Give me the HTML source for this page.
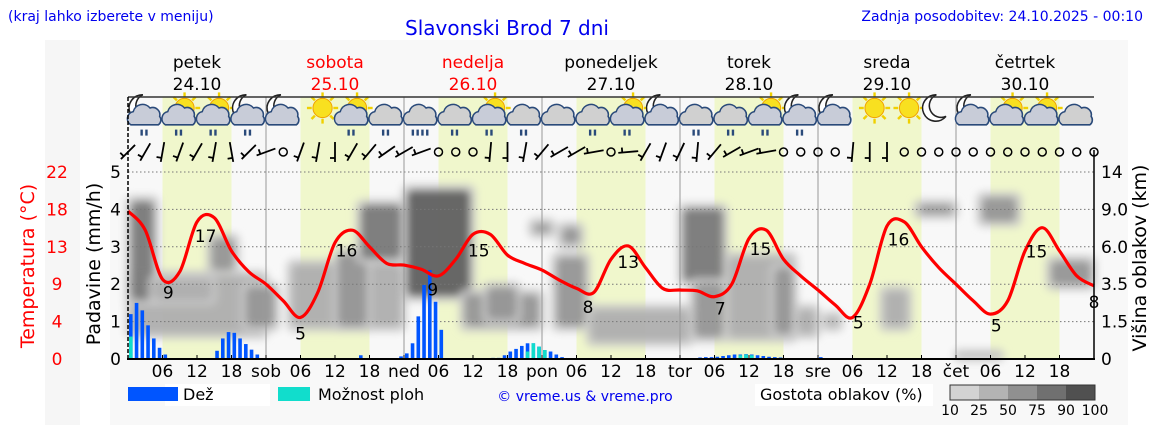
<!DOCTYPE html>
<html><head><meta charset="utf-8">
<style>
body{margin:0;background:#fff;width:1152px;height:443px;overflow:hidden;font-family:"Liberation Sans","DejaVu Sans",sans-serif}
svg text{font-family:"DejaVu Sans","Liberation Sans",sans-serif}
</style></head>
<body>
<svg id="chart" width="1152" height="443" viewBox="0 0 1152 443" xmlns="http://www.w3.org/2000/svg">
<defs><filter id="blur" x="-30%" y="-30%" width="160%" height="160%"><feGaussianBlur stdDeviation="4"/></filter></defs>
<rect x="45" y="40" width="35" height="385" fill="#f6f6f6"/>
<rect x="110" y="40" width="1018" height="385" fill="#f8f8f8"/>
<text x="8" y="21" font-size="14" fill="#0000ee">(kraj lahko izberete v meniju)</text>
<text x="507" y="35" font-size="20" fill="#0000ee" text-anchor="middle">Slavonski Brod 7 dni</text>
<text x="1143" y="21" font-size="14" fill="#0000ee" text-anchor="end">Zadnja posodobitev: 24.10.2025 - 00:10</text>
<g id="bands"></g><g id="clouds" filter="url(#blur)"></g><g id="grid"></g><g id="bars"></g><g id="temp"></g><g id="icons"></g><g id="wind"></g><g id="axes"></g>
<text transform="translate(34,266) rotate(-90)" font-size="19" fill="#ff0000" text-anchor="middle">Temperatura (°C)</text>
<text transform="translate(100,264) rotate(-90)" font-size="19" fill="#000" text-anchor="middle">Padavine (mm/h)</text>
<text transform="translate(1146,258) rotate(-90)" font-size="19" fill="#000" text-anchor="middle">Višina oblakov (km)</text>
<g>
<rect x="165" y="384" width="105" height="22" fill="#fff"/>
<rect x="128" y="387" width="50" height="14" fill="#0055ff"/>
<text x="183" y="400" font-size="16">Dež</text>
<rect x="278" y="387" width="32" height="14" fill="#11ddcc"/>
<text x="318" y="400" font-size="16">Možnost ploh</text>
<text x="585" y="401" font-size="14" fill="#0000ee" text-anchor="middle">© vreme.us &amp; vreme.pro</text>
<rect x="755" y="384" width="178" height="22" fill="#fff"/>
<text x="760" y="400" font-size="16">Gostota oblakov (%)</text>
<g id="cbar"></g>
</g>
</svg>
<script>
const NS='http://www.w3.org/2000/svg';
const dayNames=['petek','sobota','nedelja','ponedeljek','torek','sreda','četrtek'];
const dayDates=['24.10','25.10','26.10','27.10','28.10','29.10','30.10'];
const dayShort=['','sob','ned','pon','tor','sre','čet'];
const tempVals=[17.8,15.5,9.6,10.5,16.5,17,13,10.5, 9,7,5,8,14,15.5,13.5,11.5, 11.3,10.8,10,12,15,15,12.5,11.5, 10.7,9.5,8.5,8,12,13.6,11,8.5, 8.3,8.2,7.5,9,14.5,15.5,12,10, 8.3,6.5,5,9,16,16.5,13.5,11, 9,7,5.4,7,13,15.8,13,10, 8.8];
const tempLabelHours=[7,13.5,30,38,53,61,80,87,103,110,127,134,151,158,168];
const tempLabelVals=[9,17,5,16,9,15,8,13,7,15,5,16,5,15,8];
const rainHours=[0,1,2,3,4,5,6, 15,16,17,18,19,20,21,22, 40, 47,48,49,50,51,52,53,54, 63,64,65,66,67,68,69,70,71,72,73,74,75, 99,100,101,102,103,104,105,106,107,108,109,110,111,112,113, 120];
const rainVals=[1.2,1.5,1.3,0.9,0.55,0.3,0.12, 0.22,0.55,0.72,0.7,0.55,0.4,0.25,0.12, 0.1, 0.07,0.15,0.42,1.14,1.98,2.38,1.53,0.78, 0.03,0.03,0.1,0.2,0.27,0.35,0.42,0.42,0.33,0.24,0.2,0.12,0.05, 0.04,0.05,0.05,0.06,0.08,0.1,0.12,0.12,0.13,0.12,0.1,0.08,0.06,0.05,0.04, 0.05];
const rainShower=[0.6,0,0,0,0,0,0, 0,0,0,0,0,0,0,0, 0, 0,0,0,0,0,0,0,0, 0,0,0,0,0,0,0.2,0.42,0.33,0.24,0,0,0, 0,0,0,0,0,0,0,0.1,0.12,0.1,0,0,0,0,0, 0];
const cloudH0=[0,0,14,20,4,28,36,48,40,58,62,70,74,75,80,96,98,104,112,116,121,131,137,148,160,144];
const cloudH1=[24,5,19,26,15,48,42,60,48,72,68,74,80,79,98,104,104,116,116,120,124,136,144,155,168,152];
const cloudL0=[0.6,1.5,2.3,0.8,1.5,0.8,0.8,1.6,2.6,0.8,1,3.3,0.8,3,0.4,2,0.5,0.5,0.6,0.6,0.8,0.8,3.8,3.6,1.9,0];
const cloudL1=[2.3,4.3,3.3,2,2.2,2.6,2.9,4.6,4.2,1.8,2,3.7,2.8,3.6,1.4,4.1,2.1,2.8,2.5,1.4,1.2,1.9,4.2,4.4,2.7,0.2];
const cloudDen=[35,80,70,55,40,45,50,90,85,55,70,50,70,55,35,85,65,45,55,30,30,45,50,55,70,30];
const iconTypes=['mcr','scr','scr','mcr','mc','ss','scr','cr','crh','cr','scr','cr','c','cr','scr','mc','cr','cr','scr','mcr','mc','s','s','m','mc','sc','sc','c'];
const windDir=[135,120,100,110,120,100,80,135,160,0,110,100,90,120,130,145,150,160,0,0,0,95,90,100,130,150,150,170,0,175,120,110,115,95,130,150,160,170,0,0,0,0,95,90,90,0,0,0,0,0,0,0,0,0,0,0,0];
const windSpd=[10,10,10,10,10,10,10,10,10,0,10,10,10,10,10,10,10,10,0,0,0,10,10,10,10,10,10,10,0,10,10,10,10,10,10,10,10,10,0,0,0,0,10,10,10,0,0,0,0,0,0,0,0,0,0,0,0];
const rainTicks=[0,1,2,3,4,5];
const tempTicks=['0','4','9','13','18','22'];
const kmTicks=['0','1.5','3.5','6.0','9.0','14'];
const cbarLabels=['10','25','50','75','90','100'];

const xH=h=>128+h*5.75;
const yR=v=>359-v*37.4;
const yT=t=>359-t*(187/22.5);
function mk(tag,attrs,parent,txt){const e=document.createElementNS(NS,tag);for(const k in attrs)e.setAttribute(k,attrs[k]);if(txt!==undefined)e.textContent=txt;parent.appendChild(e);return e;}
const denColor=d=>d>=90?'#555':d>=75?'#727272':d>=50?'#909090':d>=25?'#adadad':'#cdcdcd';

const bands=document.getElementById('bands');
for(let d=0;d<7;d++){
  const r=mk('rect',{x:xH(d*24+6),y:97,width:12*5.75,height:262,fill:'#f0f7cc'},bands);
  
  
  const n=mk('text',{x:xH(d*24+12),y:68,'font-size':17,'text-anchor':'middle',fill:(d==1||d==2)?'#ff0000':'#000'},bands,dayNames[d]);
  
  
  const t=mk('text',{x:xH(d*24+12),y:90,'font-size':17,'text-anchor':'middle',fill:(d==1||d==2)?'#ff0000':'#000'},bands,dayDates[d]);
  
  
}
const cl=document.getElementById('clouds');
for(let i=0;i<cloudH0.length;i++){
  const x0=xH(cloudH0[i]),x1=xH(cloudH1[i]),y0=yR(cloudL1[i]),y1=yR(cloudL0[i]);
  const h=mk('rect',{x:x0-3,y:y0-3,width:x1-x0+6,height:y1-y0+6,rx:8,fill:'#c8c8c8',opacity:0.8},cl);
  
  
  const r=mk('rect',{x:x0+3,y:y0+3,width:Math.max(2,x1-x0-6),height:Math.max(2,y1-y0-6),rx:6,fill:denColor(cloudDen[i]),opacity:0.85},cl);
  
  
}
const grid=document.getElementById('grid');
rainTicks.forEach((v,i)=>{
  if(v>0){const g=mk('line',{x1:128,x2:1094,y1:yR(v),y2:yR(v),stroke:'#777','stroke-dasharray':'1.5,2.5','stroke-width':1},grid);
  
  }
  const l=mk('text',{x:121,y:yR(v)+6,'font-size':17,'text-anchor':'end'},grid,String(v));
  
  
  const tl=mk('text',{x:57,y:yR(v)+6,'font-size':17,'text-anchor':'middle',fill:'#ff0000'},grid,tempTicks[i]);
  
  
  const kl=mk('text',{x:1101,y:yR(v)+6,'font-size':17},grid,kmTicks[i]);
  
  
});
for(let d=1;d<7;d++){
  const s=mk('line',{x1:xH(d*24),x2:xH(d*24),y1:97,y2:359,stroke:'#999','stroke-width':1},grid);
  
  
}
const bars=document.getElementById('bars');
rainHours.forEach((h,i)=>{
  const b=mk('rect',{x:xH(h)+1,y:yR(rainVals[i]),width:3.6,height:rainVals[i]*37.4,fill:'#0055ff'},bars);
  
  
  if(rainShower[i]>0){const c=mk('rect',{x:xH(h)+1,y:yR(rainShower[i]),width:3.6,height:rainShower[i]*37.4,fill:'#11ddcc'},bars);
  
  }
});
const tg=document.getElementById('temp');
const pts=tempVals.map((t,i)=>[xH(i*3),yT(t)]);
let d='M'+pts[0][0]+','+pts[0][1];
for(let i=0;i<pts.length-1;i++){
  const p0=pts[Math.max(0,i-1)],p1=pts[i],p2=pts[i+1],p3=pts[Math.min(pts.length-1,i+2)];
  d+=' C'+(p1[0]+(p2[0]-p0[0])/6)+','+(p1[1]+(p2[1]-p0[1])/6)+' '+(p2[0]-(p3[0]-p1[0])/6)+','+(p2[1]-(p3[1]-p1[1])/6)+' '+p2[0]+','+p2[1];
}
const tl=mk('path',{d:d,fill:'none',stroke:'#ff0000','stroke-width':3.2,'stroke-linejoin':'round'},tg);


function tempAt(h){const i=Math.min(Math.floor(h/3),tempVals.length-2),f=(h-i*3)/3;return tempVals[i]*(1-f)+tempVals[i+1]*f;}
tempLabelHours.forEach((h,i)=>{
  const l=mk('text',{x:Math.min(xH(h),1094),y:yT(tempAt(h))+22,'font-size':17,'text-anchor':'middle'},tg,String(tempLabelVals[i]));
  
  
});
const ic=document.getElementById('icons');
iconTypes.forEach((t,i)=>{
  const cx=xH(3+i*6),cy=114;
  const g=mk('g',{transform:`translate(${cx},${cy}) scale(1.2) translate(${-cx},${-cy})`},ic);
  
  
  if(t[0]=='s'){
    for(let k=0;k<8;k++){const a=k*Math.PI/4;mk('line',{x1:cx+4+Math.cos(a)*9,y1:cy-5+Math.sin(a)*9,x2:cx+4+Math.cos(a)*13,y2:cy-5+Math.sin(a)*13,stroke:'#f0d000','stroke-width':2},g);}
    mk('circle',{cx:cx+4,cy:cy-5,r:8,fill:'#f8e020',stroke:'#f0a000','stroke-width':0.8},g);
  } else if(t[0]=='m'){
    mk('path',{d:`M${cx-2},${cy-16} A11,11 0 1,0 ${cx+6},${cy+2} A9,9 0 1,1 ${cx-2},${cy-16}Z`,fill:'#fff',stroke:'#222','stroke-width':1.3},g);
  }
  if(t.includes('c')){
    const big=t[0]=='c';
    const fill=big?'#d0d0d0':'#c8ccd8';
    mk('path',{d:`M${cx-12},${cy+9} a6,6 0 0,1 2,-11 a8,8 0 0,1 14,-3 a6,6 0 0,1 8,7 a5,5 0 0,1 -1,7 Z`,fill:fill,stroke:'#2a4a7a','stroke-width':1.3},g);
  }
  if(t.includes('r')){
    const n=t.includes('h')?4:2;
    for(let k=0;k<n;k++)mk('line',{x1:cx-3+k*4-(n-2)*2,y1:cy+13,x2:cx-3+k*4-(n-2)*2,y2:cy+18,stroke:'#2a4a7a','stroke-width':2},g);
  }
});
const wg=document.getElementById('wind');
windDir.forEach((dir,i)=>{
  const cx=xH(i*3),cy=152;
  if(windSpd[i]==0){const c=mk('circle',{cx:cx,cy:cy,r:4,fill:'none',stroke:'#000','stroke-width':1.5},wg);
    
    return;}
  const a=dir*Math.PI/180;
  const dx=Math.cos(a)*10,dy=Math.sin(a)*10;
  const g=mk('g',{},wg);
  
  
  mk('line',{x1:cx-dx,y1:cy-dy,x2:cx+dx,y2:cy+dy,stroke:'#000','stroke-width':1.8},g);
  mk('line',{x1:cx+dx*0.6,y1:cy+dy*0.6,x2:cx+dx*0.6+Math.cos(a+Math.PI/2)*5,y2:cy+dy*0.6+Math.sin(a+Math.PI/2)*5,stroke:'#000','stroke-width':1.8},g);
});
const ax=document.getElementById('axes');
mk('line',{x1:128,x2:1094,y1:97,y2:97,stroke:'#333','stroke-width':1.5},ax);
mk('line',{x1:128,x2:128,y1:97,y2:359,stroke:'#000','stroke-width':1.5,'stroke-dasharray':'4,2'},ax);
mk('line',{x1:1094,x2:1094,y1:150,y2:359,stroke:'#000','stroke-width':1.5},ax);
mk('line',{x1:127,x2:1095,y1:359,y2:359,stroke:'#000','stroke-width':2},ax);
for(let h=0;h<=168;h+=6){
  mk('line',{x1:xH(h),x2:xH(h),y1:359,y2:355,stroke:'#000','stroke-width':1},ax);
  const dd=Math.floor(h/24),hh=h%24;
  let lab=hh==0?dayShort[dd]||'':(hh<10?'0':'')+hh;
  if(h==168)lab='';
  if(lab){const l=mk('text',{x:xH(h),y:377,'font-size':17,'text-anchor':'middle'},ax,lab);
  
  }
}
const cb=document.getElementById('cbar');
['#d3d3d3','#b3b3b3','#909090','#707070','#505050'].forEach((c,i)=>{
  const r=mk('rect',{x:950+i*29,y:385,width:29,height:15,fill:c},cb);
  
  
});
mk('rect',{x:950,y:385,width:145,height:15,fill:'none',stroke:'#333','stroke-width':1},cb);
cbarLabels.forEach((t,i)=>{
  const l=mk('text',{x:950+i*29,y:415,'font-size':14,'text-anchor':'middle'},cb,t);
  
  
});
</script>
</body></html>
